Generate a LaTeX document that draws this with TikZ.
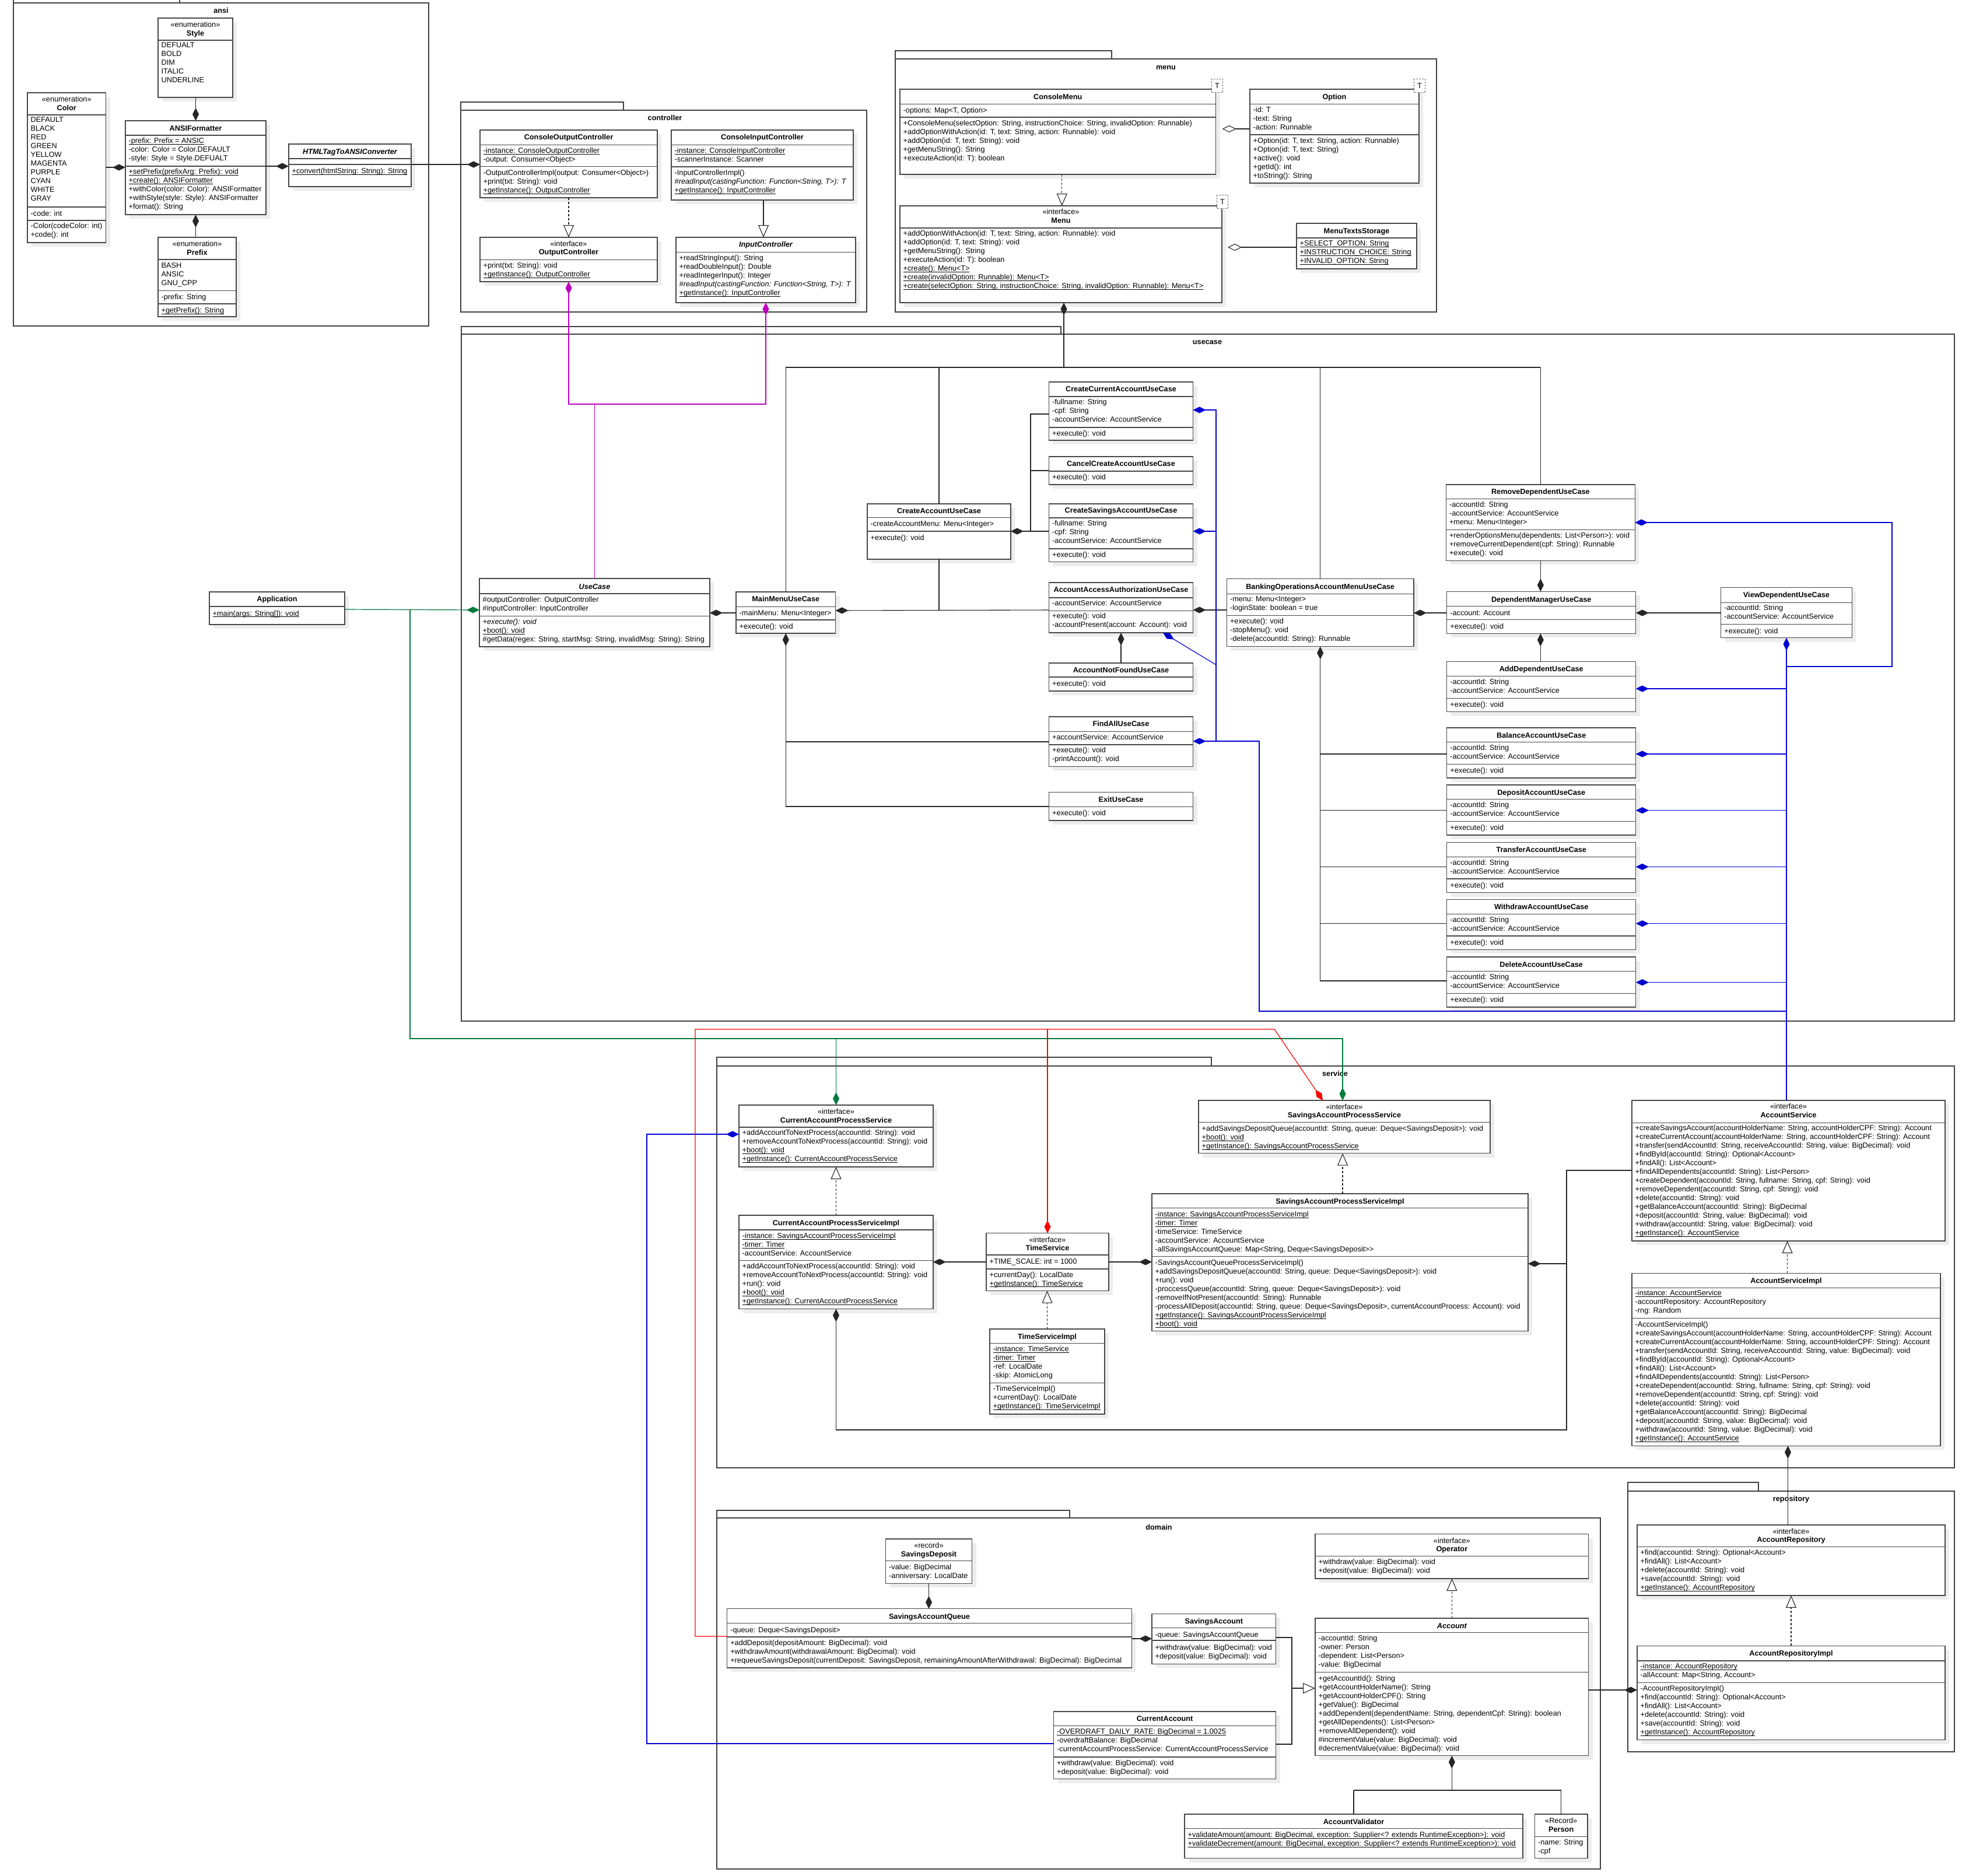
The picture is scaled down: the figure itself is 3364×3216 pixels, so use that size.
\documentclass[tikz,border=0pt]{standalone}
\usepackage{fontspec}
\setmainfont{Liberation Sans}
\usetikzlibrary{arrows.meta}
\definecolor{ugreen}{RGB}{0,122,61}
\definecolor{umag}{RGB}{190,0,190}
\definecolor{ublue}{RGB}{0,0,210}
\definecolor{ured}{RGB}{255,0,0}
\newcommand\ff{\fontsize{12.7}{15}\selectfont}
\newcommand\ul[1]{\setbox0\hbox{#1}\rlap{\rule[-2.3pt]{\wd0}{0.9pt}}\box0}
\newcount\tn
\newcommand\ubox[5]{%
  \fill[shd] (#2+7,#3+7) rectangle (#4+7,#5+7);
  \node[boxst,anchor=north west,minimum width={(#4-(#2))*1pt},minimum height={(#5-(#3))*1pt}] (#1) at (#2,#3) {};}
\newcommand\hd[2]{\draw[divst] (#1.west |- 0,#2) -- (#1.east |- 0,#2);}
\newcommand\nm[3]{\global\advance\tn by 1 \node[namest] (n\the\tn) at (#1.north |- 0,#2) {#3};}
\newcommand\stt[3]{\global\advance\tn by 1 \node[sterst] (n\the\tn) at (#1.north |- 0,#2) {«#3»};}
\newcommand\tx[3]{\global\advance\tn by 1 \node[txtst] (n\the\tn) at (#1.west |- 0,#2-6) {#3};}
\newcommand\ucs[3]{%
  \ubox{#1}{2480.7}{#2}{2804.8}{#2+86}
  \hd{#1}{#2+24.8}\hd{#1}{#2+62.6}
  \nm{#1}{#2+12.4}{#3}
  \tx{#1}{#2+35.4}{-accountId: String\\-accountService: AccountService}
  \tx{#1}{#2+73.2}{+execute(): void}}
\tikzset{
  boxst/.style={draw=black!72, line width=1.3pt, fill=white, inner sep=0pt, outer sep=0pt, rectangle},
  shd/.style={fill=black!7},
  divst/.style={draw=black!72, line width=1.3pt},
  pkgst/.style={draw=black!75, line width=1.3pt},
  pkglab/.style={font=\ff\bfseries, inner sep=0pt, text height=9.3pt, text depth=0pt},
  namest/.style={font=\ff\bfseries, inner sep=0pt, text height=9.3pt, text depth=0pt},
  sterst/.style={font=\ff, inner sep=0pt, text height=9.3pt, text depth=0pt},
  txtst/.style={font=\ff, inner sep=0pt, anchor=north west, align=left, xshift=5.5pt, execute at begin node=\strut},
  tmpl/.style={draw=black!60, dash pattern=on 3pt off 2pt, fill=white, line width=1.1pt, minimum width=19pt, minimum height=23pt, inner sep=0pt, font=\ff},
  conn/.style={draw=black!85, line width=1.1pt},
  dS/.style={{Diamond[length=22pt,width=11pt]}-},
  dE/.style={-{Diamond[length=22pt,width=11pt]}},
  dSE/.style={{Diamond[length=22pt,width=11pt]}-{Diamond[length=22pt,width=11pt]}},
  cmp/.style={conn, dS},
  agg/.style={conn, {Diamond[length=24pt,width=12pt,fill=white]}-},
  gen/.style={conn, -{Triangle[length=21pt,width=18pt,fill=white]}},
  rea/.style={gen, dash pattern=on 4pt off 3pt},
  grc/.style={draw=ugreen, line width=1.2pt},
  mgc/.style={draw=umag, line width=1.2pt},
  blc/.style={draw=ublue, line width=1.2pt},
  rdc/.style={draw=ured, line width=1.2pt},
}
\begin{document}
\begin{tikzpicture}[x=1pt,y=-1pt]
\useasboundingbox (0,0) rectangle (3364,3216);
\fill[white] (0,0) rectangle (3364,3216);

% ---------------- packages
\draw[pkgst] (23,-10) rectangle (308,5);
\draw[pkgst] (23,5) rectangle (735,559);
\node[pkglab] (pkansi) at (379,18) {ansi};
\draw[pkgst] (790,175) rectangle (1069,189);
\draw[pkgst] (790,189) rectangle (1486,535);
\node[pkglab] (pkctrl) at (1140,202) {controller};
\draw[pkgst] (1535,87) rectangle (1906,101);
\draw[pkgst] (1535,101) rectangle (2463,535);
\node[pkglab] (pkmenu) at (1999,115) {menu};
\draw[pkgst] (791,560) rectangle (1819,573);
\draw[pkgst] (791,573) rectangle (3351,1751);
\node[pkglab] (pkuc) at (2070,586) {usecase};
\draw[pkgst] (1229,1813) rectangle (2077,1828);
\draw[pkgst] (1229,1828) rectangle (3351,2517);
\node[pkglab] (pksrv) at (2289,1841) {service};
\draw[pkgst] (2791,2542) rectangle (3015,2557);
\draw[pkgst] (2791,2557) rectangle (3351,3004);
\node[pkglab] (pkrep) at (3071,2570) {repository};
\draw[pkgst] (1229,2590) rectangle (1834,2603);
\draw[pkgst] (1229,2603) rectangle (2744,3205);
\node[pkglab] (pkdom) at (1987,2619) {domain};

% ---------------- ansi
\ubox{sty}{271}{31}{399}{167}\hd{sty}{69}
\stt{sty}{42}{enumeration}\nm{sty}{56.6}{Style}
\tx{sty}{79}{DEFUALT\\BOLD\\DIM\\ITALIC\\UNDERLINE}

\ubox{col}{47}{159}{181.5}{416}\hd{col}{197}\hd{col}{355}\hd{col}{378}
\stt{col}{169.4}{enumeration}\nm{col}{184.5}{Color}
\tx{col}{207}{DEFAULT\\BLACK\\RED\\GREEN\\YELLOW\\MAGENTA\\PURPLE\\CYAN\\WHITE\\GRAY}
\tx{col}{366}{-code: int}
\tx{col}{388.5}{-Color(codeColor: int)\\+code(): int}

\ubox{fmt}{215}{207}{456}{368}\hd{fmt}{232}\hd{fmt}{285}
\nm{fmt}{219.5}{ANSIFormatter}
\tx{fmt}{242.5}{\ul{-prefix: Prefix = ANSIC}\\-color: Color = Color.DEFAULT\\-style: Style = Style.DEFUALT}
\tx{fmt}{295.5}{\ul{+setPrefix(prefixArg: Prefix): void}\\\ul{+create(): ANSIFormatter}\\+withColor(color: Color): ANSIFormatter\\+withStyle(style: Style): ANSIFormatter\\+format(): String}

\ubox{htm}{495}{247}{705}{320}\hd{htm}{272}\hd{htm}{282}
\nm{htm}{259.5}{\itshape HTMLTagToANSIConverter}
\tx{htm}{292.6}{\ul{+convert(htmlString: String): String}}

\ubox{pre}{271}{407}{405}{543}\hd{pre}{445}\hd{pre}{498.4}\hd{pre}{521}
\stt{pre}{418}{enumeration}\nm{pre}{432.4}{Prefix}
\tx{pre}{456}{BASH\\ANSIC\\GNU\_CPP}
\tx{pre}{509}{-prefix: String}
\tx{pre}{531.5}{\ul{+getPrefix(): String}}

% ---------------- controller
\ubox{cout}{823}{223}{1127}{339}\hd{cout}{248.3}\hd{cout}{285.7}
\nm{cout}{235.3}{ConsoleOutputController}
\tx{cout}{258.7}{\ul{-instance: ConsoleOutputController}\\-output: Consumer<Object>}
\tx{cout}{296.7}{-OutputControllerImpl(output: Consumer<Object>)\\+print(txt: String): void\\\ul{+getInstance(): OutputController}}

\ubox{cin}{1151}{223}{1463}{343}\hd{cin}{248.3}\hd{cin}{286}
\nm{cin}{235.3}{ConsoleInputController}
\tx{cin}{258.7}{\ul{-instance: ConsoleInputController}\\-scannerInstance: Scanner}
\tx{cin}{296.7}{-InputControllerImpl()\\{\itshape\#readInput(castingFunction: Function<String, T>): T}\\\ul{+getInstance(): InputController}}

\ubox{oc}{823}{407}{1127}{483}\hd{oc}{445.3}
\stt{oc}{417.7}{interface}\nm{oc}{432.3}{OutputController}
\tx{oc}{455.7}{+print(txt: String): void\\\ul{+getInstance(): OutputController}}

\ubox{ic}{1159}{407}{1467}{519}\hd{ic}{432.3}
\nm{ic}{419.3}{\itshape InputController}
\tx{ic}{442.7}{+readStringInput(): String\\+readDoubleInput(): Double\\+readIntegerInput(): Integer\\{\itshape\#readInput(castingFunction: Function<String, T>): T}\\\ul{+getInstance(): InputController}}

% ---------------- menu
\ubox{cmenu}{1543}{153}{2084.5}{299}\hd{cmenu}{178.3}\hd{cmenu}{201}
\nm{cmenu}{165.7}{ConsoleMenu}
\tx{cmenu}{189}{-options: Map<T, Option>}
\tx{cmenu}{212}{+ConsoleMenu(selectOption: String, instructionChoice: String, invalidOption: Runnable)\\+addOptionWithAction(id: T, text: String, action: Runnable): void\\+addOption(id: T, text: String): void\\+getMenuString(): String\\+executeAction(id: T): boolean}

\ubox{opt}{2143}{153}{2433}{314}\hd{opt}{178.3}\hd{opt}{231}
\nm{opt}{165.7}{Option}
\tx{opt}{189}{-id: T\\-text: String\\-action: Runnable}
\tx{opt}{241.7}{+Option(id: T, text: String, action: Runnable)\\+Option(id: T, text: String)\\+active(): void\\+getId(): int\\+toString(): String}

\ubox{menu}{1543}{353}{2095}{519}\hd{menu}{391}
\stt{menu}{363.3}{interface}\nm{menu}{378.3}{Menu}
\tx{menu}{401.3}{+addOptionWithAction(id: T, text: String, action: Runnable): void\\+addOption(id: T, text: String): void\\+getMenuString(): String\\+executeAction(id: T): boolean\\\ul{+create(): Menu<T>}\\\ul{+create(invalidOption: Runnable): Menu<T>}\\\ul{+create(selectOption: String, instructionChoice: String, invalidOption: Runnable): Menu<T>}}

\ubox{mts}{2223}{383}{2429}{461}\hd{mts}{408}
\nm{mts}{395.7}{MenuTextsStorage}
\tx{mts}{418.3}{\ul{+SELECT\_OPTION: String}\\\ul{+INSTRUCTION\_CHOICE: String}\\\ul{+INVALID\_OPTION: String}}

% ---------------- usecase
\ubox{app}{359}{1015}{591}{1071}\hd{app}{1040}
\nm{app}{1027.3}{Application}
\tx{app}{1051.3}{\ul{+main(args: String[]): void}}

\ubox{uc}{822}{992}{1217}{1109}\hd{uc}{1018}\hd{uc}{1056.3}
\nm{uc}{1005.7}{\itshape UseCase}
\tx{uc}{1029}{\#outputController: OutputController\\\#inputController: InputController}
\tx{uc}{1066.7}{{\itshape +execute(): void}\\\ul{+boot(): void}\\\#getData(regex: String, startMsg: String, invalidMsg: String): String}

\ubox{mm}{1262}{1015}{1432.5}{1086}\hd{mm}{1040.7}\hd{mm}{1063}
\nm{mm}{1027.3}{MainMenuUseCase}
\tx{mm}{1050.7}{-mainMenu: Menu<Integer>}
\tx{mm}{1074}{+execute(): void}

\ubox{cau}{1487}{864}{1733}{959}\hd{cau}{887.6}\hd{cau}{911}
\nm{cau}{875.6}{CreateAccountUseCase}
\tx{cau}{898}{-createAccountMenu: Menu<Integer>}
\tx{cau}{921.6}{+execute(): void}

\ubox{ccau}{1798.4}{655}{2045.6}{755}\hd{ccau}{680}\hd{ccau}{733}
\nm{ccau}{667}{CreateCurrentAccountUseCase}
\tx{ccau}{690}{-fullname: String\\-cpf: String\\-accountService: AccountService}
\tx{ccau}{743}{+execute(): void}

\ubox{cancel}{1798.4}{783}{2045.6}{831}\hd{cancel}{808}
\nm{cancel}{795}{CancelCreateAccountUseCase}
\tx{cancel}{818}{+execute(): void}

\ubox{csau}{1798.4}{864}{2045.6}{963.5}\hd{csau}{888}\hd{csau}{941}
\nm{csau}{875}{CreateSavingsAccountUseCase}
\tx{csau}{898}{-fullname: String\\-cpf: String\\-accountService: AccountService}
\tx{csau}{951}{+execute(): void}

\ubox{aaa}{1798.4}{999}{2045.6}{1085}\hd{aaa}{1025}\hd{aaa}{1047.4}
\nm{aaa}{1011}{AccountAccessAuthorizationUseCase}
\tx{aaa}{1034}{-accountService: AccountService}
\tx{aaa}{1057}{+execute(): void\\-accountPresent(account: Account): void}

\ubox{anf}{1798.4}{1137}{2045.6}{1185}\hd{anf}{1161}
\nm{anf}{1148.7}{AccountNotFoundUseCase}
\tx{anf}{1172}{+execute(): void}

\ubox{fa}{1798.4}{1229}{2045.6}{1314.5}\hd{fa}{1254.6}\hd{fa}{1277}
\nm{fa}{1241}{FindAllUseCase}
\tx{fa}{1264}{+accountService: AccountService}
\tx{fa}{1287}{+execute(): void\\-printAccount(): void}

\ubox{ex}{1798.4}{1358.4}{2045.6}{1407}\hd{ex}{1383.4}
\nm{ex}{1371}{ExitUseCase}
\tx{ex}{1394}{+execute(): void}

\ubox{bo}{2103.3}{992.6}{2424}{1108.8}\hd{bo}{1018.5}\hd{bo}{1055.7}
\nm{bo}{1005.6}{BankingOperationsAccountMenuUseCase}
\tx{bo}{1028.6}{-menu: Menu<Integer>\\-loginState: boolean = true}
\tx{bo}{1066.3}{+execute(): void\\-stopMenu(): void\\-delete(accountId: String): Runnable}

\ubox{rd}{2479.3}{831}{2803.4}{961.3}\hd{rd}{855.7}\hd{rd}{908.8}
\nm{rd}{843.3}{RemoveDependentUseCase}
\tx{rd}{866.3}{-accountId: String\\-accountService: AccountService\\+menu: Menu<Integer>}
\tx{rd}{919.4}{+renderOptionsMenu(dependents: List<Person>): void\\+removeCurrentDependent(cpf: String): Runnable\\+execute(): void}

\ubox{dm}{2480.7}{1014.4}{2804.8}{1086.4}\hd{dm}{1039.2}\hd{dm}{1062.8}
\nm{dm}{1027.4}{DependentManagerUseCase}
\tx{dm}{1050.4}{-account: Account}
\tx{dm}{1073.4}{+execute(): void}

\ubox{vd}{2950.7}{1007.3}{3175.2}{1093.5}\hd{vd}{1033.3}\hd{vd}{1070.5}
\nm{vd}{1020.3}{ViewDependentUseCase}
\tx{vd}{1043.3}{-accountId: String\\-accountService: AccountService}
\tx{vd}{1081.7}{+execute(): void}

\ucs{ad}{1134.8}{AddDependentUseCase}
\ucs{bal}{1248}{BalanceAccountUseCase}
\ucs{dep}{1346}{DepositAccountUseCase}
\ucs{tra}{1444.5}{TransferAccountUseCase}
\ucs{wit}{1542.4}{WithdrawAccountUseCase}
\ucs{del}{1641}{DeleteAccountUseCase}

% ---------------- service
\ubox{caps}{1267}{1895}{1600}{2001}\hd{caps}{1933}
\stt{caps}{1905.5}{interface}\nm{caps}{1920.4}{CurrentAccountProcessService}
\tx{caps}{1943.5}{+addAccountToNextProcess(accountId: String): void\\+removeAccountToNextProcess(accountId: String): void\\\ul{+boot(): void}\\\ul{+getInstance(): CurrentAccountProcessService}}

\ubox{capsi}{1267}{2084}{1600}{2244.6}\hd{capsi}{2109}\hd{capsi}{2161.7}
\nm{capsi}{2096.6}{CurrentAccountProcessServiceImpl}
\tx{capsi}{2119.7}{\ul{-instance: SavingsAccountProcessServiceImpl}\\\ul{-timer: Timer}\\-accountService: AccountService}
\tx{capsi}{2172.4}{+addAccountToNextProcess(accountId: String): void\\+removeAccountToNextProcess(accountId: String): void\\+run(): void\\\ul{+boot(): void}\\\ul{+getInstance(): CurrentAccountProcessService}}

\ubox{ts}{1691}{2114.7}{1901}{2213.6}\hd{ts}{2152}\hd{ts}{2176}
\stt{ts}{2125.4}{interface}\nm{ts}{2140.3}{TimeService}
\tx{ts}{2163.1}{+TIME\_SCALE: int = 1000}
\tx{ts}{2186.6}{+currentDay(): LocalDate\\\ul{+getInstance(): TimeService}}

\ubox{tsi}{1697}{2279}{1894}{2425}\hd{tsi}{2303.3}\hd{tsi}{2371.7}
\nm{tsi}{2291.6}{TimeServiceImpl}
\tx{tsi}{2314}{\ul{-instance: TimeService}\\\ul{-timer: Timer}\\-ref: LocalDate\\-skip: AtomicLong}
\tx{tsi}{2382.3}{-TimeServiceImpl()\\+currentDay(): LocalDate\\\ul{+getInstance(): TimeServiceImpl}}

\ubox{saps}{2055}{1887}{2555}{1977.7}\hd{saps}{1924.7}
\stt{saps}{1898}{interface}\nm{saps}{1912.3}{SavingsAccountProcessService}
\tx{saps}{1935.7}{+addSavingsDepositQueue(accountId: String, queue: Deque<SavingsDeposit>): void\\\ul{+boot(): void}\\\ul{+getInstance(): SavingsAccountProcessService}}

\ubox{sapsi}{1975}{2047}{2620}{2282.7}\hd{sapsi}{2071.3}\hd{sapsi}{2154.3}
\nm{sapsi}{2059.7}{SavingsAccountProcessServiceImpl}
\tx{sapsi}{2082.7}{\ul{-instance: SavingsAccountProcessServiceImpl}\\\ul{-timer: Timer}\\-timeService: TimeService\\-accountService: AccountService\\-allSavingsAccountQueue: Map<String, Deque<SavingsDeposit>\kern0pt>}
\tx{sapsi}{2165.7}{-SavingsAccountQueueProcessServiceImpl()\\+addSavingsDepositQueue(accountId: String, queue: Deque<SavingsDeposit>): void\\+run(): void\\-proccessQueue(accountId: String, queue: Deque<SavingsDeposit>): void\\-removeIfNotPresent(accountId: String): Runnable\\-processAllDeposit(accountId: String, queue: Deque<SavingsDeposit>, currentAccountProcess: Account): void\\\ul{+getInstance(): SavingsAccountProcessServiceImpl}\\\ul{+boot(): void}}

\ubox{as}{2798}{1887}{3335}{2128}\hd{as}{1925.4}
\stt{as}{1897.3}{interface}\nm{as}{1912.1}{AccountService}
\tx{as}{1935.2}{+createSavingsAccount(accountHolderName: String, accountHolderCPF: String): Account\\+createCurrentAccount(accountHolderName: String, accountHolderCPF: String): Account\\+transfer(sendAccountId: String, receiveAccountId: String, value: BigDecimal): void\\+findById(accountId: String): Optional<Account>\\+findAll(): List<Account>\\+findAllDependents(accountId: String): List<Person>\\+createDependent(accountId: String, fullname: String, cpf: String): void\\+removeDependent(accountId: String, cpf: String): void\\+delete(accountId: String): void\\+getBalanceAccount(accountId: String): BigDecimal\\+deposit(accountId: String, value: BigDecimal): void\\+withdraw(accountId: String, value: BigDecimal): void\\\ul{+getInstance(): AccountService}}

\ubox{asi}{2798}{2183.4}{3327}{2479.3}\hd{asi}{2208.8}\hd{asi}{2260.7}
\nm{asi}{2195.5}{AccountServiceImpl}
\tx{asi}{2218.5}{\ul{-instance: AccountService}\\-accountRepository: AccountRepository\\-rng: Random}
\tx{asi}{2272}{-AccountServiceImpl()\\+createSavingsAccount(accountHolderName: String, accountHolderCPF: String): Account\\+createCurrentAccount(accountHolderName: String, accountHolderCPF: String): Account\\+transfer(sendAccountId: String, receiveAccountId: String, value: BigDecimal): void\\+findById(accountId: String): Optional<Account>\\+findAll(): List<Account>\\+findAllDependents(accountId: String): List<Person>\\+createDependent(accountId: String, fullname: String, cpf: String): void\\+removeDependent(accountId: String, cpf: String): void\\+delete(accountId: String): void\\+getBalanceAccount(accountId: String): BigDecimal\\+deposit(accountId: String, value: BigDecimal): void\\+withdraw(accountId: String, value: BigDecimal): void\\\ul{+getInstance(): AccountService}}

% ---------------- repository
\ubox{ar}{2807}{2615}{3335}{2736}\hd{ar}{2652.3}
\stt{ar}{2625.7}{interface}\nm{ar}{2640.3}{AccountRepository}
\tx{ar}{2663}{+find(accountId: String): Optional<Account>\\+findAll(): List<Account>\\+delete(accountId: String): void\\+save(accountId: String): void\\\ul{+getInstance(): AccountRepository}}

\ubox{ari}{2807}{2822.3}{3335}{2983.7}\hd{ari}{2848}\hd{ari}{2885.7}
\nm{ari}{2835.3}{AccountRepositoryImpl}
\tx{ari}{2858.3}{\ul{-instance: AccountRepository}\\-allAccount: Map<String, Account>}
\tx{ari}{2896.3}{-AccountRepositoryImpl()\\+find(accountId: String): Optional<Account>\\+findAll(): List<Account>\\+delete(accountId: String): void\\+save(accountId: String): void\\\ul{+getInstance(): AccountRepository}}

% ---------------- domain
\ubox{sd}{1518.5}{2639}{1666.5}{2715.3}\hd{sd}{2676.7}
\stt{sd}{2650}{record}\nm{sd}{2664.7}{SavingsDeposit}
\tx{sd}{2687.7}{-value: BigDecimal\\-anniversary: LocalDate}

\ubox{saq}{1246.6}{2758.7}{1940.4}{2860}\hd{saq}{2783.7}\hd{saq}{2807}
\nm{saq}{2771.7}{SavingsAccountQueue}
\tx{saq}{2794.7}{-queue: Deque<SavingsDeposit>}
\tx{saq}{2817.7}{+addDeposit(depositAmount: BigDecimal): void\\+withdrawAmount(withdrawalAmount: BigDecimal): void\\+requeueSavingsDeposit(currentDeposit: SavingsDeposit, remainingAmountAfterWithdrawal: BigDecimal): BigDecimal}

\ubox{sa}{1975}{2767.3}{2187.7}{2853.3}\hd{sa}{2791.3}\hd{sa}{2813}
\nm{sa}{2779.7}{SavingsAccount}
\tx{sa}{2802.3}{-queue: SavingsAccountQueue}
\tx{sa}{2825.7}{+withdraw(value: BigDecimal): void\\+deposit(value: BigDecimal): void}

\ubox{ca}{1806.5}{2935}{2187.7}{3050.7}\hd{ca}{2959.7}\hd{ca}{3013}
\nm{ca}{2947.3}{CurrentAccount}
\tx{ca}{2970.3}{\ul{-OVERDRAFT\_DAILY\_RATE: BigDecimal = 1.0025}\\-overdraftBalance: BigDecimal\\-currentAccountProcessService: CurrentAccountProcessService}
\tx{ca}{3023.7}{+withdraw(value: BigDecimal): void\\+deposit(value: BigDecimal): void}

\ubox{op}{2255}{2630.7}{2723.7}{2707}\hd{op}{2668.8}
\stt{op}{2641.4}{interface}\nm{op}{2656.2}{Operator}
\tx{op}{2679.5}{+withdraw(value: BigDecimal): void\\+deposit(value: BigDecimal): void}

\ubox{acc}{2255}{2775}{2723.7}{3010.6}\hd{acc}{2799.8}\hd{acc}{2867.8}
\nm{acc}{2787.5}{\itshape Account}
\tx{acc}{2810.5}{-accountId: String\\-owner: Person\\-dependent: List<Person>\\-value: BigDecimal}
\tx{acc}{2878.6}{+getAccountId(): String\\+getAccountHolderName(): String\\+getAccountHolderCPF(): String\\+getValue(): BigDecimal\\+addDependent(dependentName: String, dependentCpf: String): boolean\\+getAllDependents(): List<Person>\\+removeAllDependent(): void\\\#incrementValue(value: BigDecimal): void\\\#decrementValue(value: BigDecimal): void}

\ubox{av}{2031}{3111}{2611}{3186.7}\hd{av}{3135.7}
\nm{av}{3123.5}{AccountValidator}
\tx{av}{3146.8}{\ul{+validateAmount(amount: BigDecimal, exception: Supplier<? extends RuntimeException>): void}\\\ul{+validateDecrement(amount: BigDecimal, exception: Supplier<? extends RuntimeException>): void}}

\ubox{per}{2631.4}{3111}{2722}{3186.7}\hd{per}{3149.7}
\stt{per}{3121.6}{Record}\nm{per}{3136.8}{Person}
\tx{per}{3159.7}{-name: String\\-cpf}

% ================= connectors
% ansi
\draw[cmp] (fmt.north) -- (fmt.north |- sty.south);
\draw[cmp] (fmt.west |- 0,287) -- (col.east |- 0,287);
\draw[cmp] (fmt.south) -- (fmt.south |- pre.north);
\draw[cmp] (htm.west |- 0,285) -- (fmt.east |- 0,285);
\draw[cmp] (cout.west |- 0,282) -- (htm.east |- 0,282);
% controller
\draw[rea] (cout.south) -- (cout.south |- oc.north);
\draw[gen] ([xshift=2pt]cin.south) -- ([xshift=2pt]cin.south |- ic.north);
\draw[mgc, dSE] (oc.south) -- (oc.south |- 0,693) -- (ic.south |- 0,693) -- (ic.south);
\draw[mgc] (uc.north) -- (uc.north |- 0,693);
% menu
\draw[agg, shorten <=11pt] (cmenu.east |- 0,221) -- (opt.west |- 0,221);
\draw[rea] ([xshift=7pt]cmenu.south) -- ([xshift=7pt]cmenu.south |- menu.north);
\draw[agg, shorten <=10pt] (menu.east |- 0,424) -- (mts.west |- 0,424);
\draw[cmp] ([xshift=5pt]menu.south) -- ([xshift=5pt]menu.south |- 0,630);
\draw[conn] (mm.north |- 0,630) -- (rd.north |- 0,630);
\draw[conn] (mm.north |- 0,630) -- (mm.north);
\draw[conn] (cau.north |- 0,630) -- (cau.north);
\draw[conn] (bo.north |- 0,630) -- (bo.north);
\draw[conn] (rd.north |- 0,630) -- (rd.north);
% green
\draw[grc, dS] (uc.west |- 0,1046) -- (app.east |- 0,1045);
\coordinate (gj) at (703,1046);
\draw[grc, dE] (gj) -- (gj |- 0,1781) -- ([xshift=-3pt]saps.north |- 0,1781) -- ([xshift=-3pt]saps.north);
\draw[grc, dE] (caps.north |- 0,1781) -- (caps.north);
% usecase
\draw[cmp] (uc.east |- 0,1051) -- (mm.west |- 0,1051);
\draw[cmp] (mm.east |- 0,1047) -- (aaa.west |- 0,1046);
\draw[conn] (cau.south) -- (cau.south |- 0,1046);
\draw[cmp] (mm.south) -- (mm.south |- 0,1383) -- (ex.west |- 0,1383);
\draw[conn] (mm.south |- 0,1272) -- (fa.west |- 0,1272);
\draw[cmp] (cau.east |- 0,911) -- (csau.west |- 0,911);
\coordinate (cj) at (1767,911);
\draw[conn] (cj) -- (cj |- 0,710) -- (ccau.west |- 0,710);
\draw[conn] (cj |- 0,807) -- (cancel.west |- 0,807);
\draw[cmp] (aaa.east |- 0,1046) -- (bo.west |- 0,1046);
\draw[cmp] (aaa.south) -- (anf.north);
\draw[cmp] (bo.east |- 0,1051) -- (dm.west |- 0,1051);
\draw[conn, dE] (rd.south) -- (rd.south |- dm.north);
\draw[cmp] (dm.south -| rd.south) -- (rd.south |- ad.north);
\draw[cmp] (dm.east |- 0,1051) -- (vd.west |- 0,1051);
\draw[cmp] (bo.south) -- (bo.south |- 0,1682) -- (del.west |- 0,1682);
\foreach \n/\yy in {bal/1293,dep/1389.5,tra/1486.4,wit/1583.5}
  \draw[conn] (bo.south |- 0,\yy) -- (\n.west |- 0,\yy);
% blue
\draw[blc, dS] (vd.south) -- (vd.south |- as.north);
\draw[ublue, line width=2.6pt] (vd.south |- 0,1734) -- (vd.south |- as.north);
\draw[blc, dS] (rd.east |- 0,896) -- (3244,896) -- (3244,1143) -- (vd.south |- 0,1143);
\foreach \n/\yy in {ad/1181,bal/1293,dep/1389.6,tra/1486.4,wit/1583.7,del/1684.6}
  \draw[blc, dS] (\n.east |- 0,\yy) -- (vd.south |- 0,\yy);
\draw[blc, dS] (ccau.east |- 0,703) -- (2085,703) -- (2085,1272);
\draw[blc, dS] (csau.east |- 0,911) -- (2085,911);
\draw[blc, dS] (fa.east |- 0,1271) -- (2159,1271) -- (2159,1734) -- (vd.south |- 0,1734);
\draw[blc, dS] ([xshift=72pt]aaa.south) -- (2085,1140);
\draw[blc, dS] (caps.west |- 0,1945) -- (1109,1945) -- (1109,2990) -- (ca.west |- 0,2990);
% red
\draw[rdc, dS] ([xshift=-37pt]saps.north) -- (2185,1765) -- (1192,1765) -- (1192,2806) -- (saq.west |- 0,2806);
\draw[rdc, dS] (ts.north) -- (ts.north |- 0,1765);
% service
\draw[cmp] (capsi.south) -- (capsi.south |- 0,2452) -- (2686,2452) -- (2686,2007) -- (as.west |- 0,2007);
\draw[cmp] (sapsi.east |- 0,2167) -- (2686,2167);
\draw[cmp] (capsi.east |- 0,2164) -- (ts.west |- 0,2164);
\draw[cmp] (sapsi.west |- 0,2164) -- (ts.east |- 0,2164);
\draw[rea] (capsi.north) -- (caps.south);
\draw[rea] (tsi.north) -- (tsi.north |- ts.south);
\draw[rea] ([xshift=-3pt]saps.south |- sapsi.north) -- ([xshift=-3pt]saps.south);
\draw[rea] ([xshift=-2pt]as.south |- asi.north) -- ([xshift=-2pt]as.south);
\draw[cmp] ([xshift=3pt]asi.south) -- ([xshift=3pt]asi.south |- ar.north);
\draw[rea] (ari.north) -- (ar.south);
\draw[cmp] (ari.west |- 0,2898) -- (acc.east |- 0,2898);
% domain
\draw[cmp] (saq.north -| sd.south) -- (sd.south);
\draw[cmp] (sa.west |- 0,2810) -- (saq.east |- 0,2810);
\draw[conn] (sa.east |- 0,2808) -- (2215,2808) -- (2215,2991) -- (ca.east |- 0,2991);
\draw[gen] (2215,2895) -- (acc.west |- 0,2895);
\draw[rea] (acc.north) -- (op.south);
\draw[cmp] (acc.south) -- (acc.south |- 0,3070);
\draw[conn] (av.north |- 0,3070) -- (per.north |- 0,3070);
\draw[conn] (av.north |- 0,3070) -- (av.north);
\draw[conn] (per.north |- 0,3070) -- (per.north);

% templates
\node[tmpl,anchor=north west] (tcm) at (2077,135) {T};
\node[tmpl,anchor=north west] (topt) at (2424,135) {T};
\node[tmpl,anchor=north west] (tmenu) at (2086,334) {T};
\end{tikzpicture}
\end{document}
